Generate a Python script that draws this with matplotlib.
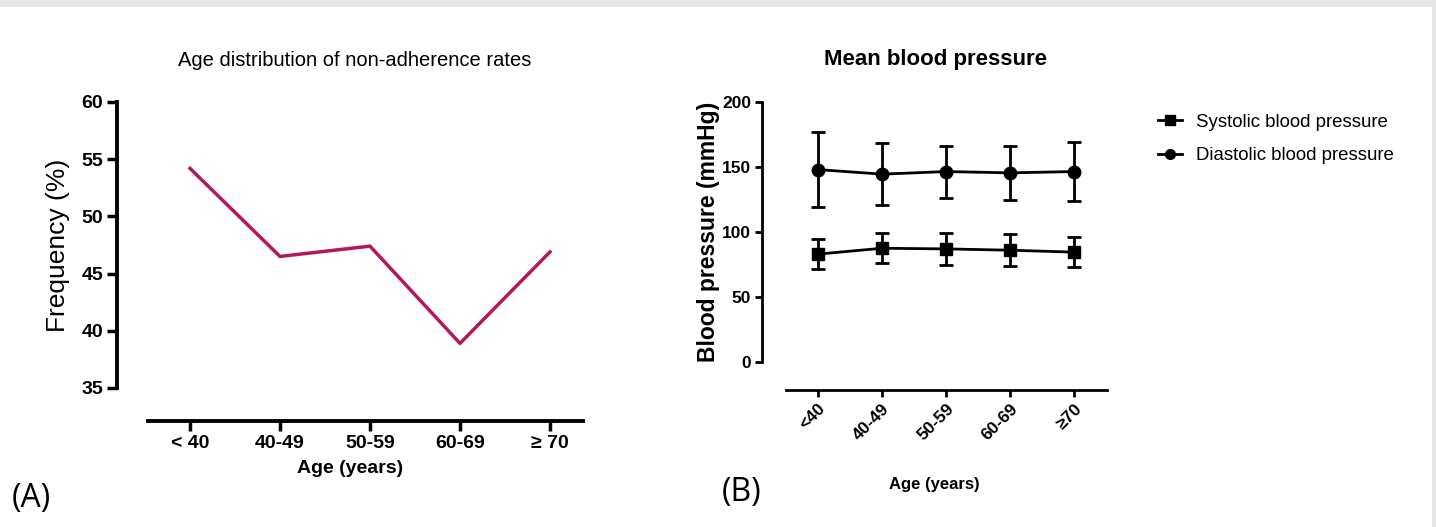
import numpy as np
import matplotlib.pyplot as plt
from matplotlib.patches import Rectangle
from matplotlib.lines import Line2D

plt.rcParams['font.family'] = ['Liberation Sans', 'DejaVu Sans']

# panel A data
age_a = ['< 40', '40-49', '50-59', '60-69', '\u2265 70']
freq = [54.2, 46.5, 47.4, 38.9, 46.9]

# panel B data
age_b = ['<40', '40-49', '50-59', '60-69', '\u226570']
circ_mean = [148, 144.5, 146.5, 145.5, 146.5]
circ_err = [29, 24, 20, 20.5, 23]
sq_mean = [83, 87.5, 87, 86, 84.5]
sq_err = [11.5, 11.5, 12, 12.5, 11.5]

W, H = 1436, 527
fig = plt.figure(figsize=(W/100, H/100), dpi=100)
fig.patch.set_facecolor('#e6e6e8')
fig.patches.append(Rectangle((0, 0), 1432/W, 1-7/H, transform=fig.transFigure,
                             facecolor='white', edgecolor='none', zorder=-5))

def box(l, t, r, b):
    return [l/W, 1-b/H, (r-l)/W, (b-t)/H]

# ---- panel A
x0, x4 = 190, 550
u = (x4-x0)/4
axa = fig.add_axes(box(117, 102, 583, 388))
axa.set_facecolor('none')
xa = np.arange(len(age_a))
axa.plot(xa, freq, color='#b5175e', lw=2.5)
axa.set_xlim((117-x0)/u, (583-x0)/u)
axa.set_ylim(35, 60)
for s in ['top', 'right']:
    axa.spines[s].set_visible(False)
axa.spines['left'].set_linewidth(2.8)
axa.spines['bottom'].set_linewidth(2.8)
axa.spines['bottom'].set_position(('outward', 23.8))
axa.spines['bottom'].set_bounds((148-x0)/u, (583-x0)/u)
axa.tick_params(width=2.5, length=7, labelsize=14, pad=3)
axa.set_yticks([35, 40, 45, 50, 55, 60])
axa.set_xticks(xa)
axa.set_xticklabels(age_a, fontweight='bold')
plt.setp(axa.get_yticklabels(), fontweight='bold')
axa.set_ylabel('Frequency (%)', fontsize=19, labelpad=8)
axa.set_xlabel('Age (years)', fontsize=14, fontweight='bold', labelpad=6)
fig.text(355/W, 1-60/H, 'Age distribution of non-adherence rates', fontsize=14.5,
         ha='center', va='center')
fig.text(12/W, 1-498/H, '(A)', fontsize=23, family='Open Sans', ha='left', va='center')

# ---- panel B
b0, b4 = 818, 1074
v = (b4-b0)/4
axb = fig.add_axes(box(762, 102, 1107, 362))
axb.set_facecolor('none')
xb = np.arange(len(age_b))
axb.errorbar(xb, sq_mean, yerr=sq_err, color='black', marker='s', ms=9, lw=2,
             capsize=5, capthick=2, elinewidth=2)
axb.errorbar(xb, circ_mean, yerr=circ_err, color='black', marker='o', ms=9, lw=2,
             capsize=5, capthick=2, elinewidth=2)
axb.set_xlim((762-b0)/v, (1107-b0)/v)
axb.set_ylim(0, 200)
for s in ['top', 'right']:
    axb.spines[s].set_visible(False)
axb.spines['left'].set_linewidth(2)
axb.spines['bottom'].set_linewidth(2)
axb.spines['bottom'].set_position(('outward', 20.2))
axb.spines['bottom'].set_bounds((786-b0)/v, (1107-b0)/v)
axb.tick_params(width=2, length=5, labelsize=12.5, pad=3)
axb.set_yticks([0, 50, 100, 150, 200])
axb.set_xticks(xb)
axb.set_xticklabels(age_b, rotation=45, ha='right', rotation_mode='anchor',
                    fontweight='bold')
plt.setp(axb.get_yticklabels(), fontweight='bold')
axb.set_ylabel('Blood pressure (mmHg)', fontsize=16.5, fontweight='bold', labelpad=1)
axb.set_xlabel('Age (years)', fontsize=12, fontweight='bold', labelpad=24)
fig.text(935/W, 1-60/H, 'Mean blood pressure', fontsize=16, fontweight='bold',
         ha='center', va='center')
fig.text(722/W, 1-493/H, '(B)', fontsize=23, family='Open Sans', ha='left', va='center')

handles = [Line2D([], [], color='black', marker='s', ms=7, lw=2),
           Line2D([], [], color='black', marker='o', ms=7, lw=2)]
labels = ['Systolic blood pressure', 'Diastolic blood pressure']
fig.legend(handles, labels, loc='center left', bbox_to_anchor=(1158/W, 1-139/H),
           frameon=False, fontsize=13.4, handlelength=1.3, handletextpad=0.75,
           labelspacing=0.9, borderpad=0, borderaxespad=0)

fig.savefig('out.png', dpi=100)
